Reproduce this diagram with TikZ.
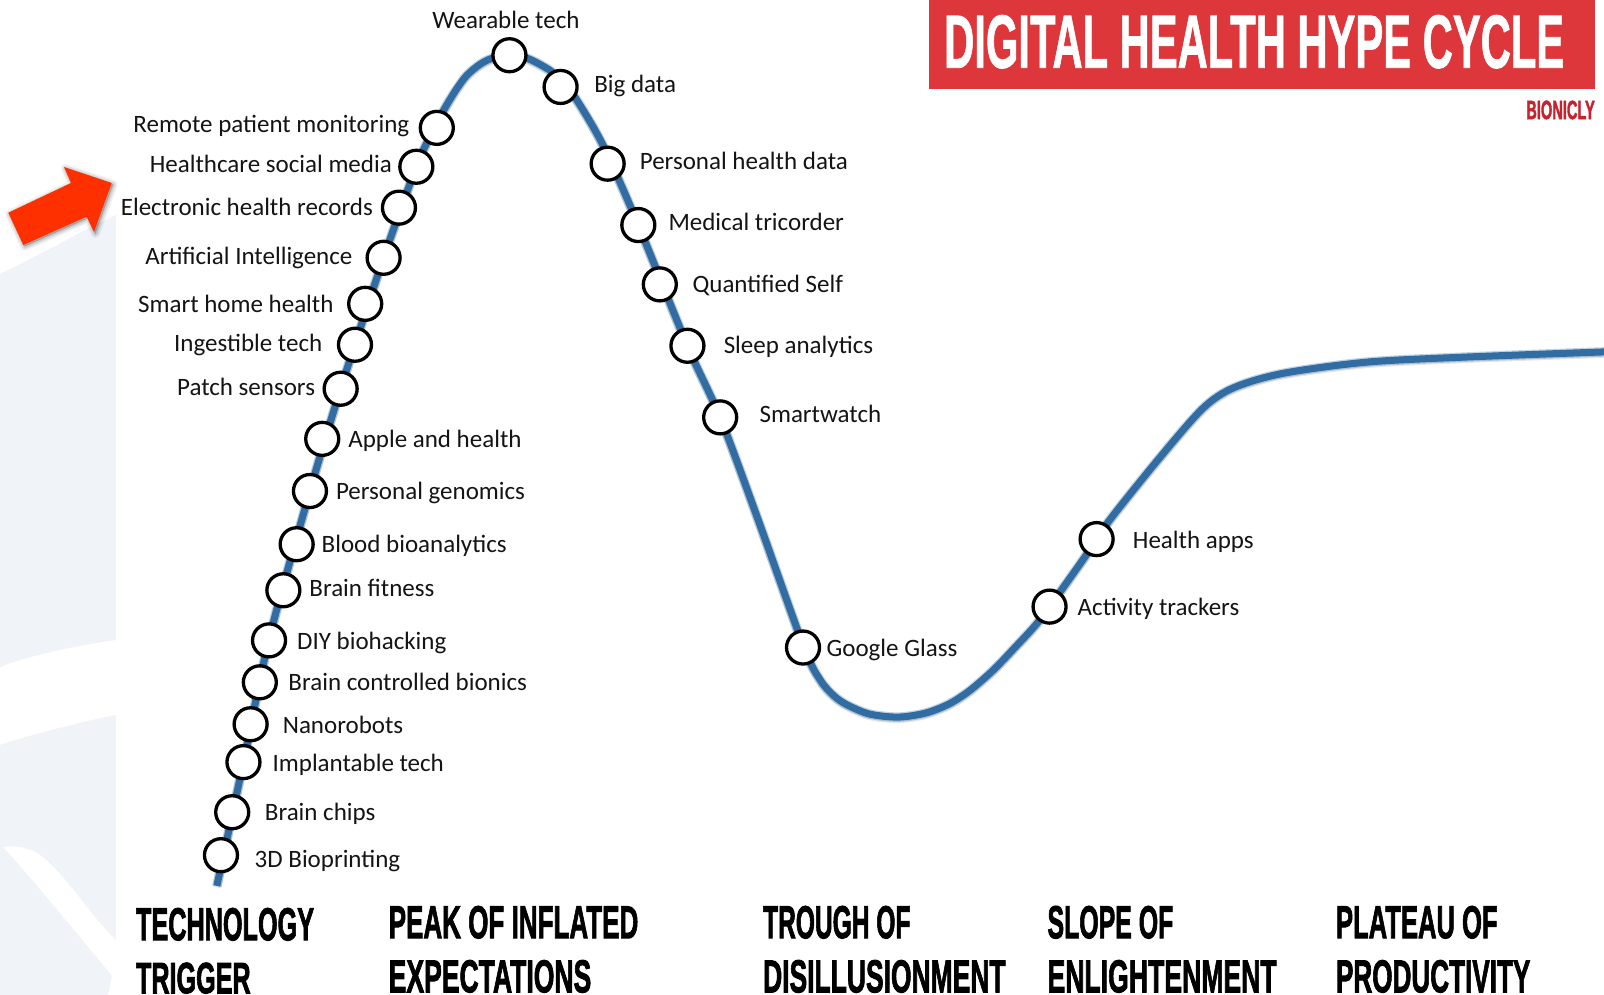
\documentclass[tikz,border=0pt]{standalone}
\usepackage{fontspec}
\setmainfont{Carlito}
\newfontfamily\headfont[FakeBold=2.2]{Liberation Sans Bold}
\newfontfamily\titlefont[FakeBold=1.2]{Liberation Sans Bold}
\definecolor{curveblue}{HTML}{316CA3}
\definecolor{bandred}{HTML}{DD363B}
\definecolor{brandred}{HTML}{C9222F}
\definecolor{wash}{HTML}{F0F3F7}
\definecolor{arrowred}{HTML}{FF3000}
\newlength{\pu}\setlength{\pu}{1.023pt}
\newcommand{\fitted}[3]{\resizebox{#1\pu}{#2\pu}{\headfont #3}}
\newcommand{\fittedt}[3]{\resizebox{#1\pu}{#2\pu}{\titlefont #3}}
\newcommand{\curvepts}{(212,866) (238,745) (263,625) (303,480) (333,380) (375,252) (407,163) (422,130) (433,109) (445,89) (456,74) (469,63) (481,57) (500,53) (518,58) (538,69) (550,80) (564,98) (590,143) (624,220) (672,338) (704,408) (740,505) (786,633) (802,665) (815,680) (828,689) (850,698) (878,701) (905,697) (928,688) (948,675) (971,655) (993,632) (1014,609) (1036,579) (1065,538) (1085,508) (1134,447) (1176,399) (1206,379) (1254,365) (1336,354) (1434,349) (1568,344)}
\tikzset{
  every node/.style={inner sep=0pt,outer sep=0pt},
  dot/.style={circle,draw=black,line width=3.3pt,fill=white,minimum size=33pt},
  lab/.style={font=\fontsize{25}{27}\selectfont,text=black!92,text height=22pt,text depth=4pt},
  leftlab/.style={lab,anchor=west},
  rightlab/.style={lab,anchor=east},
  phase/.style={anchor=north west,text=black},
  curve/.style={draw=curveblue,line width=7pt,line join=round},
  halo/.style={draw=curveblue,line width=9.5pt,opacity=.3,line join=round},
}
\begin{document}
\begin{tikzpicture}[x=1.023pt,y=-1.023pt]
\useasboundingbox (0,0) rectangle (1568,972.6);
\fill[white] (0,0) rectangle (1568,972.6);
\begin{scope}[x=1pt,y=-1pt]
\fill[wash] (0,274) .. controls (40,255) and (80,232) .. (116,215) -- (116,640) .. controls (80,645) and (30,655) .. (0,667) -- cycle;
\fill[wash] (0,745) .. controls (30,735) and (80,722) .. (116,715) -- (116,940) .. controls (90,915) and (70,880) .. (43,857) .. controls (30,847) and (15,845) .. (3,847) .. controls (20,865) and (70,925) .. (112,976) -- (108,995) -- (0,995) -- cycle;
\begin{scope}[shift={(1.5,1.5)}]
\foreach \w/\a in {9/.05,6/.07,3/.09}
  \filldraw[black,draw opacity=\a,fill opacity=\a,line width=\w pt,line join=round] (111.7,183) -- (64,167) -- (71,183) -- (8.3,212.7) -- (23.3,245) -- (86.7,216.7) -- (94,232) -- cycle;
\end{scope}
\fill[arrowred] (111.7,183) -- (64,167) -- (71,183) -- (8.3,212.7) -- (23.3,245) -- (86.7,216.7) -- (94,232) -- cycle;
\end{scope}
% curve
\begin{scope}[yshift=-1.5pt]
\draw[black,opacity=.1,line width=9pt] plot[smooth,tension=.5] coordinates {\curvepts};
\end{scope}
\draw[halo] plot[smooth,tension=.5] coordinates {\curvepts};
\draw[curve] plot[smooth,tension=.5] coordinates {\curvepts};
% dots
\node[dot] (wear) at (498,54) {};
\node[dot] (big) at (548,85) {};
\node[dot] (rem) at (427,125) {};
\node[dot] (soc) at (407,163) {};
\node[dot] (ehr) at (390,203) {};
\node[dot] (ai) at (375,252) {};
\node[dot] (home) at (357,297) {};
\node[dot] (ing) at (347,337) {};
\node[dot] (patch) at (333,380) {};
\node[dot] (apple) at (315,429) {};
\node[dot] (geno) at (303,480) {};
\node[dot] (blood) at (290,532) {};
\node[dot] (fit) at (277,577) {};
\node[dot] (diy) at (263,626) {};
\node[dot] (bion) at (254,667) {};
\node[dot] (nano) at (245,708) {};
\node[dot] (impl) at (238,745) {};
\node[dot] (chip) at (227,794) {};
\node[dot] (print) at (216,836) {};
\node[dot] (phd) at (594,160) {};
\node[dot] (tric) at (624,220) {};
\node[dot] (qs) at (645,278) {};
\node[dot] (sleep) at (672,338) {};
\node[dot] (watch) at (704,408) {};
\node[dot] (glass) at (785,633) {};
\node[dot] (track) at (1026,593) {};
\node[dot] (apps) at (1072,527) {};
% labels
\node[lab] (lwear) at (494.5,19) {Wearable tech};
\node[leftlab] (lbig) at (581,82) {Big data};
\node[rightlab] (lrem) at (400,121) {Remote patient monitoring};
\node[rightlab] (lsoc) at (383,160) {Healthcare social media};
\node[rightlab] (lehr) at (364.5,202) {Electronic health records};
\node[rightlab] (lai) at (344.5,250) {Artificial Intelligence};
\node[rightlab] (lhome) at (326,297) {Smart home health};
\node[rightlab] (ling) at (315,335) {Ingestible tech};
\node[rightlab] (lpatch) at (308,377.5) {Patch sensors};
\node[leftlab] (lapple) at (340.5,428.5) {Apple and health};
\node[leftlab] (lgeno) at (328.5,479) {Personal genomics};
\node[leftlab] (lblood) at (314.5,531) {Blood bioanalytics};
\node[leftlab] (lfit) at (302.5,574) {Brain fitness};
\node[leftlab] (ldiy) at (290.5,626) {DIY biohacking};
\node[leftlab] (lbion) at (282,666) {Brain controlled bionics};
\node[leftlab] (lnano) at (276.5,708) {Nanorobots};
\node[leftlab] (limpl) at (266.5,745) {Implantable tech};
\node[leftlab] (lchip) at (259,793) {Brain chips};
\node[leftlab] (lprint) at (249,839) {3D Bioprinting};
\node[leftlab] (lphd) at (625.5,157) {Personal health data};
\node[leftlab] (ltric) at (653.5,217) {Medical tricorder};
\node[leftlab] (lqs) at (677,277) {Quantified Self};
\node[leftlab] (lsleep) at (707.5,337) {Sleep analytics};
\node[leftlab] (lwatch) at (742.5,404.5) {Smartwatch};
\node[leftlab] (lglass) at (808,632.5) {Google Glass};
\node[leftlab] (ltrack) at (1053.5,592.5) {Activity trackers};
\node[leftlab] (lapps) at (1107.5,527) {Health apps};
% banner
\fill[bandred] (908,0) rectangle (1559,87);
\node[anchor=north west,text=white] (title) at (923,14.7) {\fittedt{606}{51.5}{DIGITAL HEALTH HYPE CYCLE}};
\node[anchor=north east,text=brandred] (brand) at (1559,98.4) {\fitted{67}{18}{BIONICLY}};
% phases
\node[phase] (p1a) at (133,887.6) {\fitted{174}{31.5}{TECHNOLOGY}};
\node[phase] (p1b) at (133,941) {\fitted{112}{30}{TRIGGER}};
\node[phase] (p2a) at (380,885.6) {\fitted{244}{31.5}{PEAK OF INFLATED}};
\node[phase] (p2b) at (380,938.5) {\fitted{198}{31.5}{EXPECTATIONS}};
\node[phase] (p3a) at (746,885.6) {\fitted{144}{31.5}{TROUGH OF}};
\node[phase] (p3b) at (746,938.5) {\fitted{237}{31.5}{DISILLUSIONMENT}};
\node[phase] (p4a) at (1024,885.6) {\fitted{123}{31.5}{SLOPE OF}};
\node[phase] (p4b) at (1024,938.5) {\fitted{224}{31.5}{ENLIGHTENMENT}};
\node[phase] (p5a) at (1306,885.6) {\fitted{158}{31.5}{PLATEAU OF}};
\node[phase] (p5b) at (1306,938.5) {\fitted{190}{31.5}{PRODUCTIVITY}};
\end{tikzpicture}
\end{document}
